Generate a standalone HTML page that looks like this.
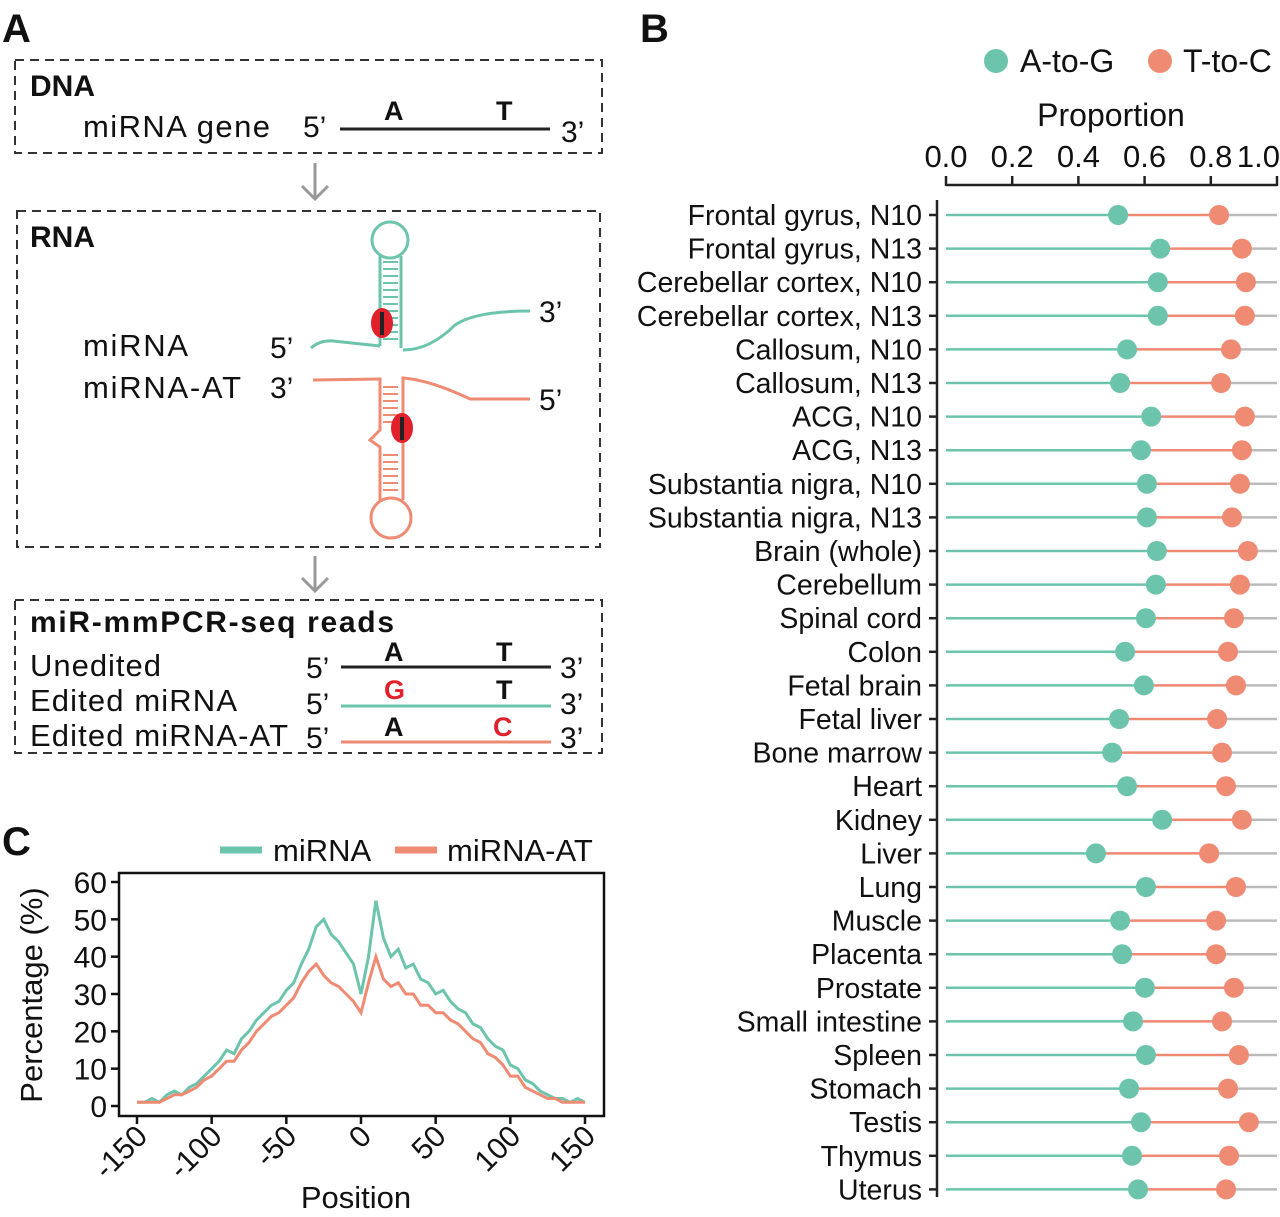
<!DOCTYPE html>
<html><head><meta charset="utf-8">
<style>
html,body{margin:0;padding:0;background:#fff;}
body{width:1280px;height:1212px;overflow:hidden;font-family:"Liberation Sans",Arial,sans-serif;}
svg text{font-family:"Liberation Sans",Arial,sans-serif;fill:#111;}
</style></head>
<body>
<svg id="fig" width="1280" height="1212" viewBox="0 0 1280 1212" xmlns="http://www.w3.org/2000/svg">
<g>
<text x="2" y="42" font-size="40" font-weight="bold">A</text>
<rect x="15" y="60" width="587" height="93" fill="none" stroke="#333" stroke-width="2" stroke-dasharray="9,6"/>
<text x="30" y="96" font-size="30" font-weight="bold">DNA</text>
<text x="83" y="137" font-size="31" textLength="187">miRNA gene</text>
<text x="303" y="137" font-size="30">5’</text>
<line x1="340" y1="129" x2="550" y2="129" stroke="#222" stroke-width="3"/>
<text x="384" y="120" font-size="27" font-weight="bold">A</text>
<text x="496" y="120" font-size="27" font-weight="bold">T</text>
<text x="561" y="142" font-size="30">3’</text>
<path d="M315 163 V198 M302 186 L315 199 L328 186" stroke="#999" stroke-width="3" fill="none"/>
<rect x="17" y="211" width="583" height="336" fill="none" stroke="#333" stroke-width="2" stroke-dasharray="9,6"/>
<text x="30" y="247" font-size="30" font-weight="bold">RNA</text>
<text x="83" y="356" font-size="31" textLength="105">miRNA</text>
<text x="83" y="398" font-size="31" textLength="158">miRNA-AT</text>
<text x="270" y="358" font-size="30">5’</text>
<text x="270" y="398" font-size="30">3’</text>
<text x="539" y="322" font-size="30">3’</text>
<text x="539" y="410" font-size="30">5’</text>
<g stroke="#6cc4ac" stroke-width="3" fill="none">
<circle cx="390" cy="240" r="18"/>
<path d="M380 256 V346 M401 256 V348"/>
<path d="M383 262 H398 M383 269 H398 M383 276 H398 M383 283 H398 M383 290 H398 M383 297 H398 M383 304 H398 M383 311 H398 M383 318 H398 M383 325 H398 M383 332 H398 M383 339 H398" stroke-width="2"/>
<path d="M311 348 Q320 340 333 341 L380 346"/>
<path d="M403 350 Q430 350 455 325 Q475 311 530 311"/>
</g>
<ellipse cx="382" cy="323" rx="11" ry="15" fill="#e0202a"/>
<rect x="380" y="312" width="4" height="23" fill="#222"/>
<g stroke="#ef8a73" stroke-width="3" fill="none">
<path d="M313 380 L380 379 V430 L370 440 L380 447 V500"/>
<path d="M530 399 L470 399 Q430 380 403 378 V500"/>
<circle cx="391" cy="518" r="20"/>
<path d="M383 387 H398 M383 394 H398 M383 401 H398 M383 408 H398 M383 415 H398 M383 422 H398 M383 455 H398 M383 462 H398 M383 469 H398 M383 476 H398 M383 483 H398 M383 490 H398" stroke-width="2"/>
</g>
<ellipse cx="402" cy="428" rx="11" ry="15" fill="#e0202a"/>
<rect x="400" y="417" width="4" height="23" fill="#222"/>
<path d="M315 556 V590 M302 578 L315 591 L328 578" stroke="#999" stroke-width="3" fill="none"/>
<rect x="15" y="600" width="587" height="153" fill="none" stroke="#333" stroke-width="2" stroke-dasharray="9,6"/>
<text x="30" y="632" font-size="30" font-weight="bold" textLength="364">miR-mmPCR-seq reads</text>
<text x="30" y="676" font-size="31" textLength="131">Unedited</text>
<text x="30" y="711" font-size="31" textLength="207">Edited miRNA</text>
<text x="30" y="746" font-size="31" textLength="258">Edited miRNA-AT</text>
<text x="306" y="678" font-size="30">5’</text><text x="306" y="714" font-size="30">5’</text><text x="306" y="748" font-size="30">5’</text>
<text x="560" y="678" font-size="30">3’</text><text x="560" y="714" font-size="30">3’</text><text x="560" y="748" font-size="30">3’</text>
<line x1="341" y1="667" x2="551" y2="667" stroke="#222" stroke-width="3"/>
<line x1="341" y1="706" x2="551" y2="706" stroke="#6cc4ac" stroke-width="3"/>
<line x1="341" y1="742" x2="551" y2="742" stroke="#ef8a73" stroke-width="3"/>
<text x="384" y="661" font-size="27" font-weight="bold">A</text><text x="496" y="661" font-size="27" font-weight="bold">T</text>
<text x="384" y="699" font-size="27" font-weight="bold" style="fill:#e0202a">G</text><text x="496" y="699" font-size="27" font-weight="bold">T</text>
<text x="384" y="736" font-size="27" font-weight="bold">A</text><text x="493" y="736" font-size="27" font-weight="bold" style="fill:#e0202a">C</text>
</g>
<g id="panelB">
<text x="640" y="42" font-size="40" font-weight="bold">B</text>
</g>
<g id="panelC">
<text x="2" y="855" font-size="40" font-weight="bold">C</text>
</g>
</svg>
<script>
// Panel B data
const tissues = ["Frontal gyrus, N10","Frontal gyrus, N13","Cerebellar cortex, N10","Cerebellar cortex, N13","Callosum, N10","Callosum, N13","ACG, N10","ACG, N13","Substantia nigra, N10","Substantia nigra, N13","Brain (whole)","Cerebellum","Spinal cord","Colon","Fetal brain","Fetal liver","Bone marrow","Heart","Kidney","Liver","Lung","Muscle","Placenta","Prostate","Small intestine","Spleen","Stomach","Testis","Thymus","Uterus"];
const aToG = [0.52,0.647,0.64,0.64,0.547,0.526,0.62,0.589,0.607,0.607,0.637,0.634,0.604,0.541,0.598,0.523,0.502,0.547,0.653,0.453,0.604,0.526,0.532,0.601,0.565,0.604,0.553,0.589,0.562,0.58];
const tToC = [0.825,0.894,0.906,0.903,0.861,0.831,0.903,0.894,0.888,0.864,0.912,0.888,0.87,0.852,0.876,0.819,0.834,0.846,0.894,0.795,0.876,0.816,0.816,0.87,0.834,0.885,0.852,0.915,0.855,0.846];
const bTicks = ["0.0","0.2","0.4","0.6","0.8","1.0"];
// Panel C data (positions -150..150 step 5)
const positions = [];
for (let p=-150;p<=150;p+=5) positions.push(p);
const miRNA = [1,1,2,1,3,4,3,5,6,8,10,12,15,14,18,20,23,25,27,28,31,33,38,42,48,50,46,44,41,38,30,40,55,45,40,42,37,38,34,33,30,31,28,26,25,22,21,18,16,15,11,10,7,6,4,3,2,2,1,2,1];
const miRNAAT = [1,1,1,1,2,3,3,4,5,7,8,10,12,12,15,17,20,22,24,25,27,29,33,36,38,35,33,32,30,28,25,33,40,34,32,33,30,30,27,27,25,25,23,22,20,18,17,14,13,11,8,8,5,4,3,2,2,1,1,1,1];
const yTicksC = [0,10,20,30,40,50,60];
const xTicksC = [-150,-100,-50,0,50,100,150];

const NS="http://www.w3.org/2000/svg";
function mk(tag, attrs, parent, text){const e=document.createElementNS(NS,tag);for(const k in attrs)e.setAttribute(k,attrs[k]);if(text!==undefined)e.textContent=text;parent.appendChild(e);return e;}
const green="#6cc4ac", salmon="#ef8a73";
const gB=document.getElementById('panelB');
const bx=v=>946+v*331, by=i=>215+i*33.6;
mk('circle',{cx:996,cy:61,r:12,fill:green},gB);
const lg1=mk('text',{x:1020,y:72,'font-size':32},gB,'A-to-G');


mk('circle',{cx:1160,cy:61,r:12,fill:salmon},gB);
const lg2=mk('text',{x:1183,y:72,'font-size':32},gB,'T-to-C');


const ttl=mk('text',{x:1111,y:126,'font-size':32,'text-anchor':'middle'},gB,'Proportion');


mk('line',{x1:946,y1:185,x2:1277,y2:185,stroke:'#222','stroke-width':2.5},gB);
mk('line',{x1:937,y1:200,x2:937,y2:1197,stroke:'#222','stroke-width':2.5},gB);
bTicks.forEach((t,i)=>{const v=parseFloat(t);mk('line',{x1:bx(v),y1:176,x2:bx(v),y2:186,stroke:'#222','stroke-width':2.5},gB);
 const last=i===bTicks.length-1;
 const tx=mk('text',{x:last?1280:bx(v),y:167,'font-size':31,'text-anchor':last?'end':'middle'},gB,t);
 
 });
tissues.forEach((name,i)=>{const y=by(i);
 mk('line',{x1:929,y1:y,x2:937,y2:y,stroke:'#222','stroke-width':2.5},gB);
 const lb=mk('text',{x:922,y:y+10,'font-size':28.5,'text-anchor':'end'},gB,name);
 
 
 mk('line',{x1:946,y1:y,x2:bx(aToG[i]),y2:y,stroke:green,'stroke-width':2.5},gB);
 mk('line',{x1:bx(aToG[i]),y1:y,x2:bx(tToC[i]),y2:y,stroke:salmon,'stroke-width':2.5},gB);
 mk('line',{x1:bx(tToC[i]),y1:y,x2:1277,y2:y,stroke:'#bbb','stroke-width':2.5},gB);
 const d1=mk('circle',{cx:bx(aToG[i]),cy:y,r:10,fill:green},gB);
 
 
 const d2=mk('circle',{cx:bx(tToC[i]),cy:y,r:10,fill:salmon},gB);
 
 
});
const gC=document.getElementById('panelC');
const cx=p=>137+(p+150)/300*448, cy=v=>1106-v/60*224;
mk('line',{x1:220,y1:850,x2:262,y2:850,stroke:green,'stroke-width':7},gC);
const l3=mk('text',{x:273,y:861,'font-size':31},gC,'miRNA');


mk('line',{x1:395,y1:850,x2:437,y2:850,stroke:salmon,'stroke-width':7},gC);
const l4=mk('text',{x:447,y:861,'font-size':31},gC,'miRNA-AT');


const pathOf=arr=>arr.map((v,i)=>(i?'L':'M')+cx(positions[i]).toFixed(1)+' '+cy(v).toFixed(1)).join(' ');
const s1=mk('path',{d:pathOf(miRNA),fill:'none',stroke:green,'stroke-width':3},gC);


const s2=mk('path',{d:pathOf(miRNAAT),fill:'none',stroke:salmon,'stroke-width':3},gC);


mk('rect',{x:119,y:873,width:485,height:243,fill:'none',stroke:'#111','stroke-width':2.5},gC);
yTicksC.forEach(v=>{mk('line',{x1:111,y1:cy(v),x2:119,y2:cy(v),stroke:'#111','stroke-width':2.5},gC);
 const t=mk('text',{x:107,y:cy(v)+11,'font-size':30,'text-anchor':'end'},gC,String(v));
 
 });
xTicksC.forEach(p=>{mk('line',{x1:cx(p),y1:1116,x2:cx(p),y2:1124,stroke:'#111','stroke-width':2.5},gC);
 const t=mk('text',{x:cx(p)+12,y:1138,'font-size':30,'text-anchor':'end',transform:`rotate(-45 ${cx(p)+12} 1138)`},gC,String(p));
 
 });
const yt=mk('text',{x:42,y:995,'font-size':31,'text-anchor':'middle',transform:'rotate(-90 42 995)'},gC,'Percentage (%)');


const xt=mk('text',{x:356,y:1208,'font-size':31,'text-anchor':'middle'},gC,'Position');


</script>
</body></html>
